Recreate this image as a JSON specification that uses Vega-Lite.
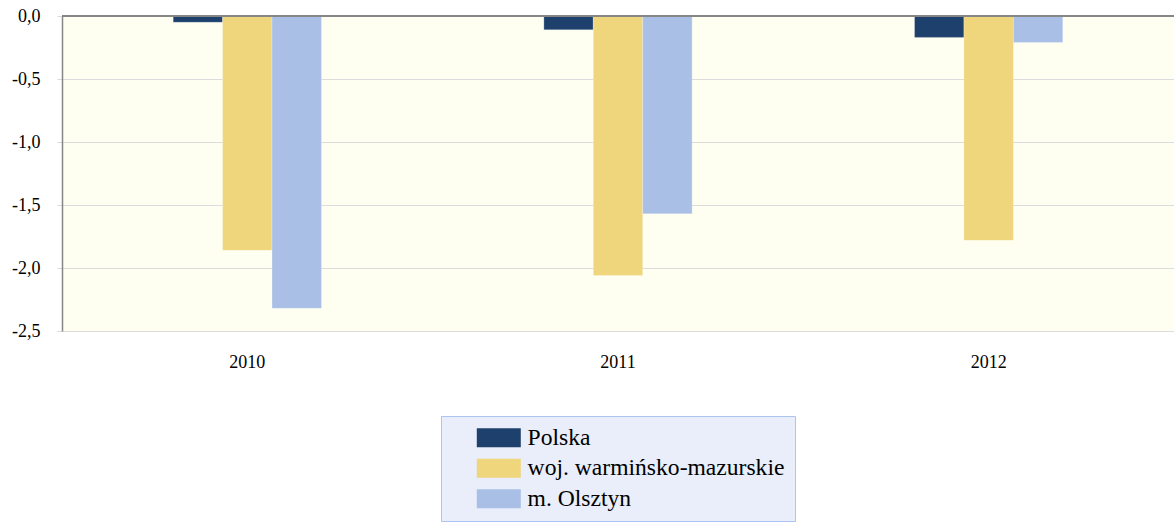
{
  "$schema": "https://vega.github.io/schema/vega-lite/v6.json",
  "autosize": "none",
  "width": 1112,
  "height": 315,
  "padding": {"left": 62, "top": 16, "right": 0, "bottom": 191},
  "background": "white",
  "config": {
    "view": {"fill": "#fefff0", "stroke": null},
    "font": "Liberation Serif"
  },
  "data": {
    "values": [
      {"year": "2010", "series": "Polska", "value": -0.05},
      {"year": "2010", "series": "woj. warmińsko-mazurskie", "value": -1.86},
      {"year": "2010", "series": "m. Olsztyn", "value": -2.32},
      {"year": "2011", "series": "Polska", "value": -0.11},
      {"year": "2011", "series": "woj. warmińsko-mazurskie", "value": -2.06},
      {"year": "2011", "series": "m. Olsztyn", "value": -1.57},
      {"year": "2012", "series": "Polska", "value": -0.17},
      {"year": "2012", "series": "woj. warmińsko-mazurskie", "value": -1.78},
      {"year": "2012", "series": "m. Olsztyn", "value": -0.21}
    ]
  },
  "layer": [
    {
      "mark": {"type": "bar", "stroke": "#ffffff", "strokeOpacity": 0.5, "strokeWidth": 0.5},
      "encoding": {
        "x": {
          "field": "year",
          "type": "nominal",
          "scale": {"paddingInner": 0.6, "paddingOuter": 0.3},
          "axis": {
            "title": null,
            "labelAngle": 0,
            "domain": false,
            "ticks": false,
            "labelFont": "Liberation Serif",
            "labelFontSize": 18,
            "labelColor": "#000000",
            "labelPadding": 22
          }
        },
        "xOffset": {
          "field": "series",
          "type": "nominal",
          "sort": ["Polska", "woj. warmińsko-mazurskie", "m. Olsztyn"],
          "scale": {"paddingInner": 0, "paddingOuter": 0}
        },
        "y": {
          "field": "value",
          "type": "quantitative",
          "scale": {"domain": [-2.5, 0], "nice": false, "zero": false},
          "axis": {
            "title": null,
            "values": [0, -0.5, -1, -1.5, -2, -2.5],
            "labelExpr": "replace(replace(format(datum.value, '.1f'), '.', ','), '\u2212', '-')",
            "labelFont": "Liberation Serif",
            "labelFontSize": 18,
            "labelColor": "#000000",
            "labelPadding": 17,
            "tickSize": 5,
            "tickColor": "#d9d9d9",
            "domainColor": "#868686",
            "domainWidth": 1.5,
            "gridColor": "#dcdcdc",
            "gridWidth": 1
          }
        },
        "color": {
          "field": "series",
          "type": "nominal",
          "scale": {
            "domain": ["Polska", "woj. warmińsko-mazurskie", "m. Olsztyn"],
            "range": ["#1d406c", "#efd57b", "#a9bfe6"]
          },
          "legend": {
            "title": null,
            "orient": "none",
            "legendX": 379,
            "legendY": 400,
            "padding": 10,
            "symbolType": "M-2.2,-0.95H2.2V0.95H-2.2Z",
            "symbolSize": 400,
            "symbolOpacity": 1,
            "symbolStrokeWidth": 0,
            "symbolOffset": 36,
            "labelOffset": 17,
            "labelFont": "Liberation Serif",
            "labelFontSize": 23.6,
            "labelColor": "#000000",
            "labelLimit": 400,
            "rowPadding": 5.5,
            "fillColor": "#e9eefa",
            "strokeColor": "#aec4f0",
            "encode": {
              "legend": {
                "update": {
                  "strokeWidth": {"value": 2}
                }
              }
            }
          }
        }
      }
    },
    {
      "mark": {"type": "rule", "color": "#868686", "strokeWidth": 1.5},
      "encoding": {"y": {"datum": 0}}
    }
  ]
}
